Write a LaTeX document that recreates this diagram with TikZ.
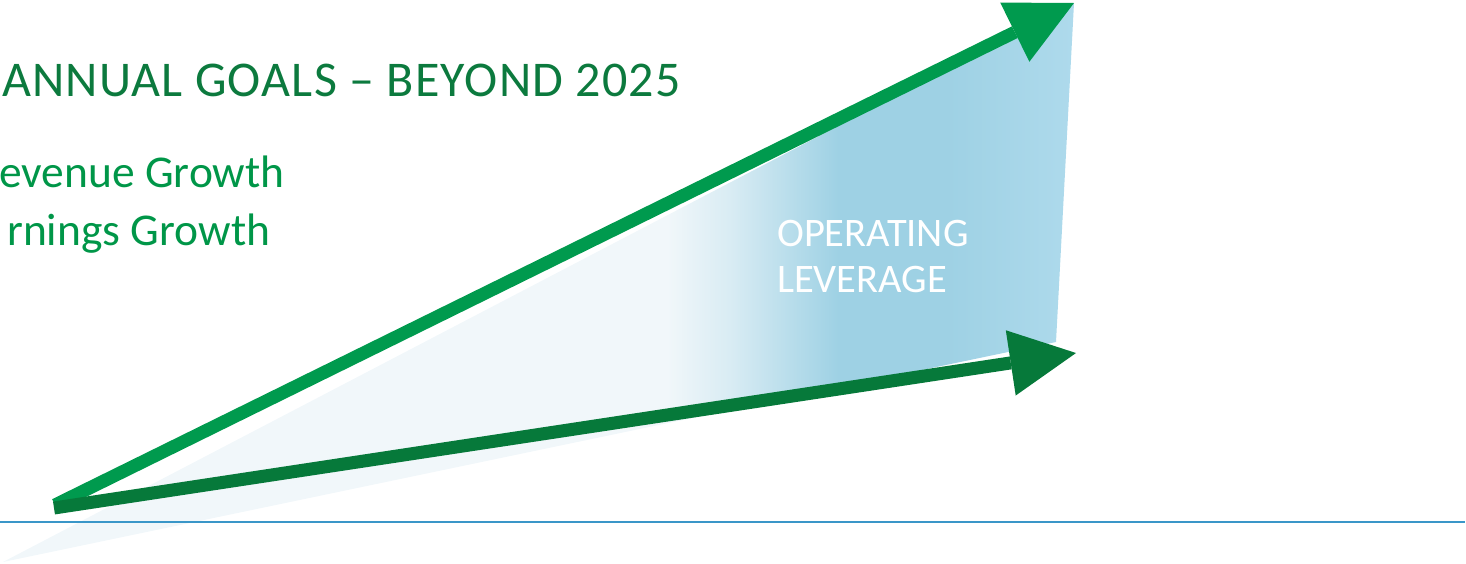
\documentclass[tikz,border=0pt]{standalone}
\usepackage{fontspec}
\setmainfont{Carlito}
\usetikzlibrary{arrows.meta}
\definecolor{pale}{RGB}{241,247,250}
\definecolor{blueA}{RGB}{158,209,228}
\definecolor{blueB}{RGB}{174,218,236}
\definecolor{arrowup}{RGB}{0,154,78}
\definecolor{arrowlow}{RGB}{6,121,58}
\definecolor{headgreen}{RGB}{12,122,62}
\definecolor{bodygreen}{RGB}{0,150,72}
\definecolor{baseblue}{RGB}{58,150,200}
\pgfdeclarehorizontalshading{opl}{100bp}{color(0bp)=(pale); color(56bp)=(pale); color(59bp)=(pale!70!blueA); color(64bp)=(blueA); color(69bp)=(blueA); color(75bp)=(blueB); color(100bp)=(blueB)}
\tikzset{
  growarrow/.style={line width=13pt, -{Triangle[length=66pt,width=66pt,line width=0pt]}},
  headtxt/.style={inner sep=0pt, anchor=base west, text=headgreen, font=\fontsize{50}{60}\selectfont\addfontfeatures{LetterSpace=2.4}},
  bodytxt/.style={inner sep=0pt, anchor=base west, text=bodygreen, font=\fontsize{45.5}{56}\selectfont},
  levtxt/.style={inner sep=0pt, anchor=base west, text=white, font=\fontsize{40.5}{46}\selectfont}
}
\begin{document}
\begin{tikzpicture}[x=1pt,y=-1pt]
\useasboundingbox (0,0) rectangle (1466,563);
% region
\coordinate (rA) at (3,562);
\coordinate (rB) at (1074,3);
\coordinate (rC) at (1056,342);
\shade[shading=opl] (rA) -- (rB) -- (rC) -- cycle;
% baseline
\coordinate (bl) at (0,522);
\coordinate (br) at (1465,522);
\draw[baseblue, line width=2.8pt] (bl) -- (br);
% arrows
\coordinate (t1) at (55,505);
\coordinate (h1) at (1074,3);
\coordinate (t2) at (54,508);
\coordinate (h2) at (1076,353);
\draw[growarrow, arrowup] (t1) -- (h1);
\draw[growarrow, arrowlow] (t2) -- (h2);
% texts
\node[headtxt] (head) at (2,96) {ANNUAL GOALS – BEYOND 2025};
\node[bodytxt] (rev) at (-1,187) {evenue Growth};
\node[bodytxt] (earn) at (7,245) {rnings Growth};
\node[levtxt] (op) at (777,246.5) {OPERATING};
\node[levtxt] (lev) at (777,292.5) {LEVERAGE};
\end{tikzpicture}
\end{document}
